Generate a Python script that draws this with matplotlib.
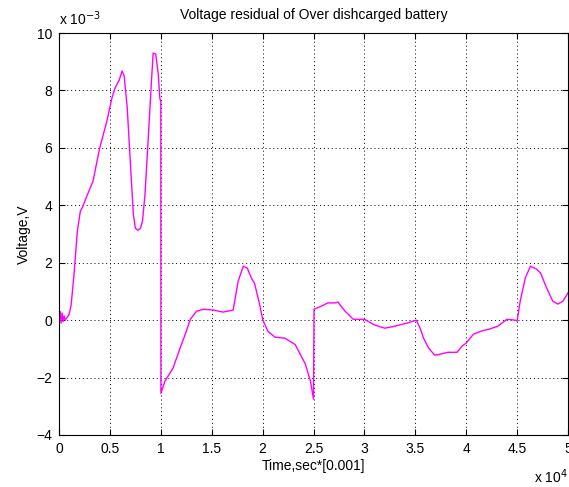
import numpy as np
import matplotlib
matplotlib.use('Agg')
import matplotlib.pyplot as plt
from matplotlib.ticker import MultipleLocator

plt.rcParams['font.family'] = ['Liberation Sans', 'DejaVu Sans']

# time in units of 1e4 (sec*0.001), voltage residual in units of 1e-3 V
time_e4 = [0.0, 0.01, 0.02, 0.03, 0.04, 0.05, 0.06, 0.08, 0.10, 0.12, 0.15, 0.18,
           0.21, 0.226, 0.285, 0.334, 0.40, 0.47, 0.52, 0.55, 0.59, 0.62, 0.64,
           0.67, 0.70, 0.73, 0.75, 0.775, 0.80, 0.82, 0.845, 0.875, 0.91, 0.925, 0.95,
           0.975, 0.99, 1.0, 1.001, 1.04, 1.12, 1.19, 1.24, 1.29, 1.35, 1.42,
           1.52, 1.61, 1.71, 1.76, 1.81, 1.85, 1.89, 1.92, 1.97, 2.0, 2.05,
           2.12, 2.22, 2.32, 2.37, 2.42, 2.47, 2.50, 2.505, 2.58, 2.64, 2.71,
           2.74, 2.81, 2.89, 3.0, 3.10, 3.2, 3.3, 3.42, 3.51, 3.55, 3.58,
           3.63, 3.69, 3.74, 3.82, 3.91, 3.96, 4.0, 4.07, 4.15, 4.23, 4.31,
           4.40, 4.48, 4.50, 4.53, 4.58, 4.63, 4.69, 4.73, 4.79, 4.85, 4.9,
           4.95, 5.0]
volt_e3 = [0.2, 0.3, -0.1, 0.25, -0.05, 0.15, 0.0, 0.1, 0.2, 0.55, 1.7, 3.1,
           3.8, 3.9, 4.42, 4.84, 6.0, 6.93, 7.74, 8.08, 8.35, 8.68, 8.5,
           7.4, 5.54, 3.7, 3.2, 3.13, 3.2, 3.45, 4.39, 6.24, 8.43, 9.3, 9.27,
           8.57, 7.74, 7.6, -2.55, -2.13, -1.67, -0.97, -0.49, 0.03, 0.31, 0.38,
           0.35, 0.28, 0.35, 1.36, 1.88, 1.81, 1.46, 1.29, 0.56, 0.03, -0.38,
           -0.59, -0.63, -0.85, -1.19, -1.53, -2.13, -2.75, 0.38, 0.49, 0.6, 0.6,
           0.63, 0.31, 0.03, 0.03, -0.17, -0.28, -0.21, -0.1, 0.0, -0.31, -0.62,
           -0.97, -1.22, -1.19, -1.12, -1.12, -0.9, -0.8, -0.49, -0.38, -0.31, -0.21,
           0.03, 0.0, -0.03, 0.66, 1.46, 1.88, 1.78, 1.64, 1.12, 0.66, 0.56,
           0.66, 0.95]
x_ticks = [0, 0.5, 1, 1.5, 2, 2.5, 3, 3.5, 4, 4.5, 5]
x_ticklabels = ['0', '0.5', '1', '1.5', '2', '2.5', '3', '3.5', '4', '4.5', '5']

fig = plt.figure(figsize=(5.69, 4.87), dpi=100)
ax = fig.add_axes([0.1037, 0.1068, 0.8946, 0.8254])

ax.plot(time_e4, volt_e3, color='#ff00ff', linewidth=1.0)

ax.set_xlim(0, 5)
ax.set_ylim(-4, 10)
ax.set_xticks(x_ticks)
ax.set_xticklabels(x_ticklabels)
ax.yaxis.set_major_locator(MultipleLocator(2))

# matlab style grid and ticks
ax.grid(True, color='black', linestyle=(0, (1, 3)), linewidth=0.7)
ax.tick_params(direction='in', length=4, width=0.8, labelsize=10,
               top=True, right=True, pad=5)
for s in ax.spines.values():
    s.set_linewidth(0.8)

ax.set_title('Voltage residual of Over dishcarged battery', fontsize=10, pad=10)
ax.set_xlabel('Time,sec*[0.001]', fontsize=10, labelpad=2)
ax.set_ylabel('Voltage,V', fontsize=10, labelpad=4)

# exponent labels
ax.text(0.0, 1.012, r'x 10$^{-3}$', transform=ax.transAxes, fontsize=10,
        ha='left', va='bottom')
ax.text(1.0, -0.08, r'x 10$^{4}$', transform=ax.transAxes, fontsize=10,
        ha='right', va='top')

plt.savefig('out.png', dpi=100)
